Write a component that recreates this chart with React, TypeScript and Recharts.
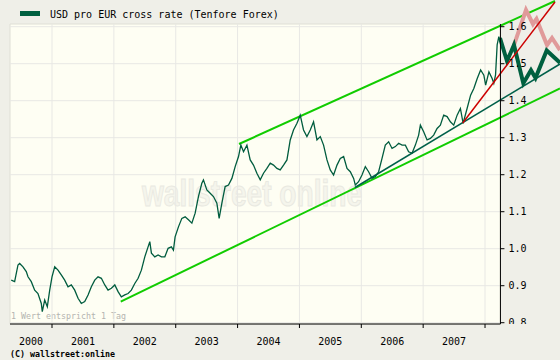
import React from "react";
import {
  ComposedChart,
  Line,
  XAxis,
  YAxis,
  ReferenceLine,
  ReferenceArea,
  Scatter,
} from "recharts";

// x in decimal years, y in USD per EUR
const X0 = 2000.321;
const X1 = 2009.212;
const AXIS_X = 2008.249; // last day of data, where the rate axis sits
const Y_MIN = 0.7965;
const Y_MAX = 1.6722;
const PLOT_TOP = 1.6073;

const dates = [
  2000.341, 2000.396, 2000.45, 2000.477, 2000.531, 2000.584, 2000.612, 2000.665, 2000.72, 2000.773,
  2000.827, 2000.843, 2000.882, 2000.924, 2000.963, 2001.0, 2001.044, 2001.097, 2001.15, 2001.205,
  2001.259, 2001.312, 2001.367, 2001.421, 2001.474, 2001.529, 2001.583, 2001.636, 2001.691, 2001.744,
  2001.798, 2001.853, 2001.906, 2001.96, 2002.015, 2002.068, 2002.121, 2002.176, 2002.23, 2002.283,
  2002.338, 2002.392, 2002.445, 2002.5, 2002.553, 2002.581, 2002.607, 2002.662, 2002.715, 2002.769,
  2002.824, 2002.877, 2002.93, 2002.963, 2002.99, 2003.044, 2003.099, 2003.152, 2003.206, 2003.261,
  2003.314, 2003.367, 2003.422, 2003.448, 2003.503, 2003.557, 2003.61, 2003.665, 2003.702, 2003.746,
  2003.799, 2003.853, 2003.908, 2003.961, 2004.015, 2004.053, 2004.096, 2004.151, 2004.204, 2004.257,
  2004.312, 2004.366, 2004.419, 2004.474, 2004.528, 2004.581, 2004.636, 2004.689, 2004.743, 2004.798,
  2004.851, 2004.904, 2004.96, 2005.013, 2005.066, 2005.121, 2005.175, 2005.228, 2005.283, 2005.337,
  2005.39, 2005.445, 2005.498, 2005.552, 2005.607, 2005.66, 2005.714, 2005.769, 2005.822, 2005.876,
  2005.903, 2005.956, 2006.011, 2006.065, 2006.118, 2006.173, 2006.227, 2006.28, 2006.335, 2006.388,
  2006.442, 2006.497, 2006.55, 2006.604, 2006.659, 2006.712, 2006.765, 2006.82, 2006.874, 2006.927,
  2006.955, 2007.008, 2007.063, 2007.117, 2007.17, 2007.225, 2007.278, 2007.332, 2007.387, 2007.44,
  2007.494, 2007.549, 2007.602, 2007.646, 2007.71, 2007.767, 2007.819, 2007.874, 2007.929, 2007.981,
  2008.01, 2008.063, 2008.115, 2008.142, 2008.17, 2008.196, 2008.223, 2008.249,
];

const rates = [
  0.915, 0.911, 0.956, 0.96, 0.951, 0.938, 0.924, 0.911, 0.888, 0.879,
  0.852, 0.83, 0.861, 0.843, 0.888, 0.924, 0.951, 0.942, 0.929, 0.915,
  0.897, 0.902, 0.888, 0.866, 0.852, 0.857, 0.875, 0.897, 0.915, 0.924,
  0.92, 0.902, 0.888, 0.893, 0.902, 0.884, 0.87, 0.875, 0.879, 0.888,
  0.906, 0.92, 0.942, 0.978, 1.005, 1.019, 0.988, 0.978, 0.983, 0.978,
  0.978, 1.001, 1.005, 0.996, 1.032, 1.059, 1.082, 1.086, 1.078, 1.069,
  1.096, 1.141, 1.177, 1.186, 1.159, 1.15, 1.141, 1.123, 1.082, 1.123,
  1.168, 1.172, 1.19, 1.222, 1.249, 1.28, 1.262, 1.28, 1.24, 1.226,
  1.204, 1.186, 1.204, 1.217, 1.231, 1.226, 1.217, 1.213, 1.226, 1.24,
  1.294, 1.321, 1.339, 1.361, 1.321, 1.303, 1.321, 1.343, 1.294, 1.303,
  1.28, 1.24, 1.213, 1.199, 1.226, 1.244, 1.249, 1.217, 1.208, 1.19,
  1.172, 1.181, 1.199, 1.222, 1.208, 1.19, 1.195, 1.208, 1.244, 1.28,
  1.289, 1.271, 1.276, 1.285, 1.28, 1.28, 1.262, 1.258, 1.28, 1.307,
  1.334, 1.316, 1.294, 1.298, 1.307, 1.325, 1.334, 1.361, 1.357, 1.343,
  1.334, 1.361, 1.379, 1.339, 1.379, 1.415, 1.433, 1.46, 1.483, 1.469,
  1.442, 1.478, 1.46, 1.447, 1.47, 1.551, 1.573, 1.559,
];

// channel and trend lines, [start, end]
const upperChannel = [
  { t: 2004.023, v: 1.283 },
  { t: 2009.131, v: 1.6695 },
];
const lowerChannel = [
  { t: 2002.111, v: 0.8568 },
  { t: 2009.212, v: 1.433 },
];
const trendLine = [
  { t: 2005.898, v: 1.1654 },
  { t: 2009.212, v: 1.4992 },
];
const steepTrend = [
  { t: 2007.639, v: 1.3397 },
  { t: 2009.131, v: 1.6668 },
];

// projected paths right of the axis
const projDark = [
  { t: 2008.242, v: 1.5695 },
  { t: 2008.355, v: 1.5073 },
  { t: 2008.468, v: 1.5505 },
  { t: 2008.619, v: 1.447 },
  { t: 2008.743, v: 1.4822 },
  { t: 2008.816, v: 1.4614 },
  { t: 2008.997, v: 1.5357 },
  { t: 2009.212, v: 1.5027 },
];
const projPink = [
  { t: 2008.468, v: 1.5505 },
  { t: 2008.662, v: 1.6451 },
  { t: 2008.775, v: 1.6073 },
  { t: 2008.832, v: 1.6208 },
  { t: 2009.002, v: 1.5505 },
  { t: 2009.083, v: 1.5695 },
  { t: 2009.212, v: 1.537 },
];

const yearTicks = [2001, 2002, 2003, 2004, 2005, 2006, 2007, 2008];
const yearLabels = ["2000", "2001", "2002", "2003", "2004", "2005", "2006", "2007"];
const yearLabelPos = [2000.66, 2001.5, 2002.5, 2003.5, 2004.5, 2005.5, 2006.5, 2007.5];
const rateTicks = [0.8, 0.9, 1.0, 1.1, 1.2, 1.3, 1.4, 1.5, 1.6];

const series = dates.map((t, i) => ({ t, v: rates[i] }));
const rateTickPoints = rateTicks.map((v) => ({ t: AXIS_X, v }));

const MONO = "'DejaVu Sans Mono', monospace";

function renderBackdrop(props: any) {
  const vb = props.viewBox || { x: 0, y: 0, width: 0, height: 0 };
  return (
    <g>
      <text
        x={vb.x + 132}
        y={vb.y + 182}
        fontFamily="'Liberation Sans', Arial, sans-serif"
        fontWeight="bold"
        fontSize={36}
        textLength={220}
        lengthAdjust="spacingAndGlyphs"
        fill="#f5f5ec"
        stroke="#e9e9e1"
        strokeWidth={1}
      >
        wallstreet online
      </text>
      <text x={vb.x + 1} y={vb.y + vb.height - 5} fontFamily={MONO} fontSize={8.3} fill="#b4b4b0">
        1 Wert entspricht 1 Tag
      </text>
    </g>
  );
}

function RateTick(props: any) {
  const { cx, cy, payload } = props;
  return (
    <g>
      <line x1={cx} x2={cx + 4} y1={cy} y2={cy} stroke="#000" />
      <text x={cx + 8} y={cy} dominantBaseline="central" fontFamily={MONO} fontSize={10} fill="#000">
        {payload.v.toFixed(1)}
      </text>
    </g>
  );
}

export default function App() {
  return (
    <div style={{ position: "relative", width: 560, height: 360, background: "#efefe8" }}>
      <style>{`body{margin:0}`}</style>
      <ComposedChart width={560} height={360} margin={{ top: 0, right: 0, bottom: 0, left: 10 }}>
        <XAxis
          dataKey="t"
          type="number"
          domain={[X0, X1]}
          allowDataOverflow
          ticks={yearTicks}
          tickFormatter={() => ""}
          tickSize={4}
          tickLine={{ stroke: "#000" }}
          axisLine={false}
          height={6}
        />
        <XAxis
          xAxisId="lab"
          dataKey="t"
          type="number"
          domain={[X0, X1]}
          allowDataOverflow
          ticks={yearLabelPos}
          tickFormatter={(_v: number, i: number) => yearLabels[i]}
          tick={{ fontFamily: MONO, fontSize: 10, fill: "#000" }}
          tickLine={false}
          axisLine={false}
          tickSize={0}
          tickMargin={8}
          height={30}
        />
        <YAxis hide type="number" domain={[Y_MIN, Y_MAX]} allowDataOverflow />

        <ReferenceArea
          x1={X0}
          x2={AXIS_X}
          y1={Y_MIN}
          y2={PLOT_TOP}
          fill="#fefef3"
          fillOpacity={1}
          stroke="#deded6"
          label={renderBackdrop}
        />
        {yearTicks.map((yr) => (
          <ReferenceLine
            key={"gx" + yr}
            segment={[
              { x: yr, y: Y_MIN },
              { x: yr, y: PLOT_TOP },
            ]}
            stroke="#e8e8e4"
          />
        ))}
        {rateTicks.map((v) => (
          <ReferenceLine
            key={"gy" + v}
            segment={[
              { x: X0, y: v },
              { x: AXIS_X, y: v },
            ]}
            stroke="#e8e8e4"
          />
        ))}

        <Line data={upperChannel} dataKey="v" stroke="#11cc00" strokeWidth={2} dot={false} isAnimationActive={false} />
        <Line data={lowerChannel} dataKey="v" stroke="#11cc00" strokeWidth={2} dot={false} isAnimationActive={false} />
        <Line data={trendLine} dataKey="v" stroke="#00604a" strokeWidth={1.5} dot={false} isAnimationActive={false} />
        <Line data={series} dataKey="v" stroke="#005c3e" strokeWidth={1.3} dot={false} isAnimationActive={false} />
        <Line data={projPink} dataKey="v" stroke="#e09a9a" strokeWidth={4} dot={false} isAnimationActive={false} />
        <Line data={projDark} dataKey="v" stroke="#00603f" strokeWidth={4} dot={false} isAnimationActive={false} />
        <Line data={steepTrend} dataKey="v" stroke="#cc0000" strokeWidth={1.5} dot={false} isAnimationActive={false} />

        <ReferenceLine
          segment={[
            { x: X0, y: Y_MIN },
            { x: AXIS_X, y: Y_MIN },
          ]}
          stroke="#000"
        />
        <ReferenceLine
          segment={[
            { x: AXIS_X, y: Y_MIN },
            { x: AXIS_X, y: PLOT_TOP },
          ]}
          stroke="#000"
        />
        <Scatter data={rateTickPoints} dataKey="v" shape={RateTick} isAnimationActive={false} />
      </ComposedChart>
      <svg width={560} height={360} style={{ position: "absolute", left: 0, top: 0, pointerEvents: "none" }}>
        <rect x={20} y={11} width={20} height={5} fill="#006040" />
        <text x={50} y={18} fontFamily={MONO} fontSize={10} fill="#000">
          USD pro EUR cross rate (Tenfore Forex)
        </text>
        <text x={10} y={357} fontFamily={MONO} fontSize={8.3} fontWeight="bold" fill="#000">
          (C) wallstreet:online
        </text>
      </svg>
    </div>
  );
}
